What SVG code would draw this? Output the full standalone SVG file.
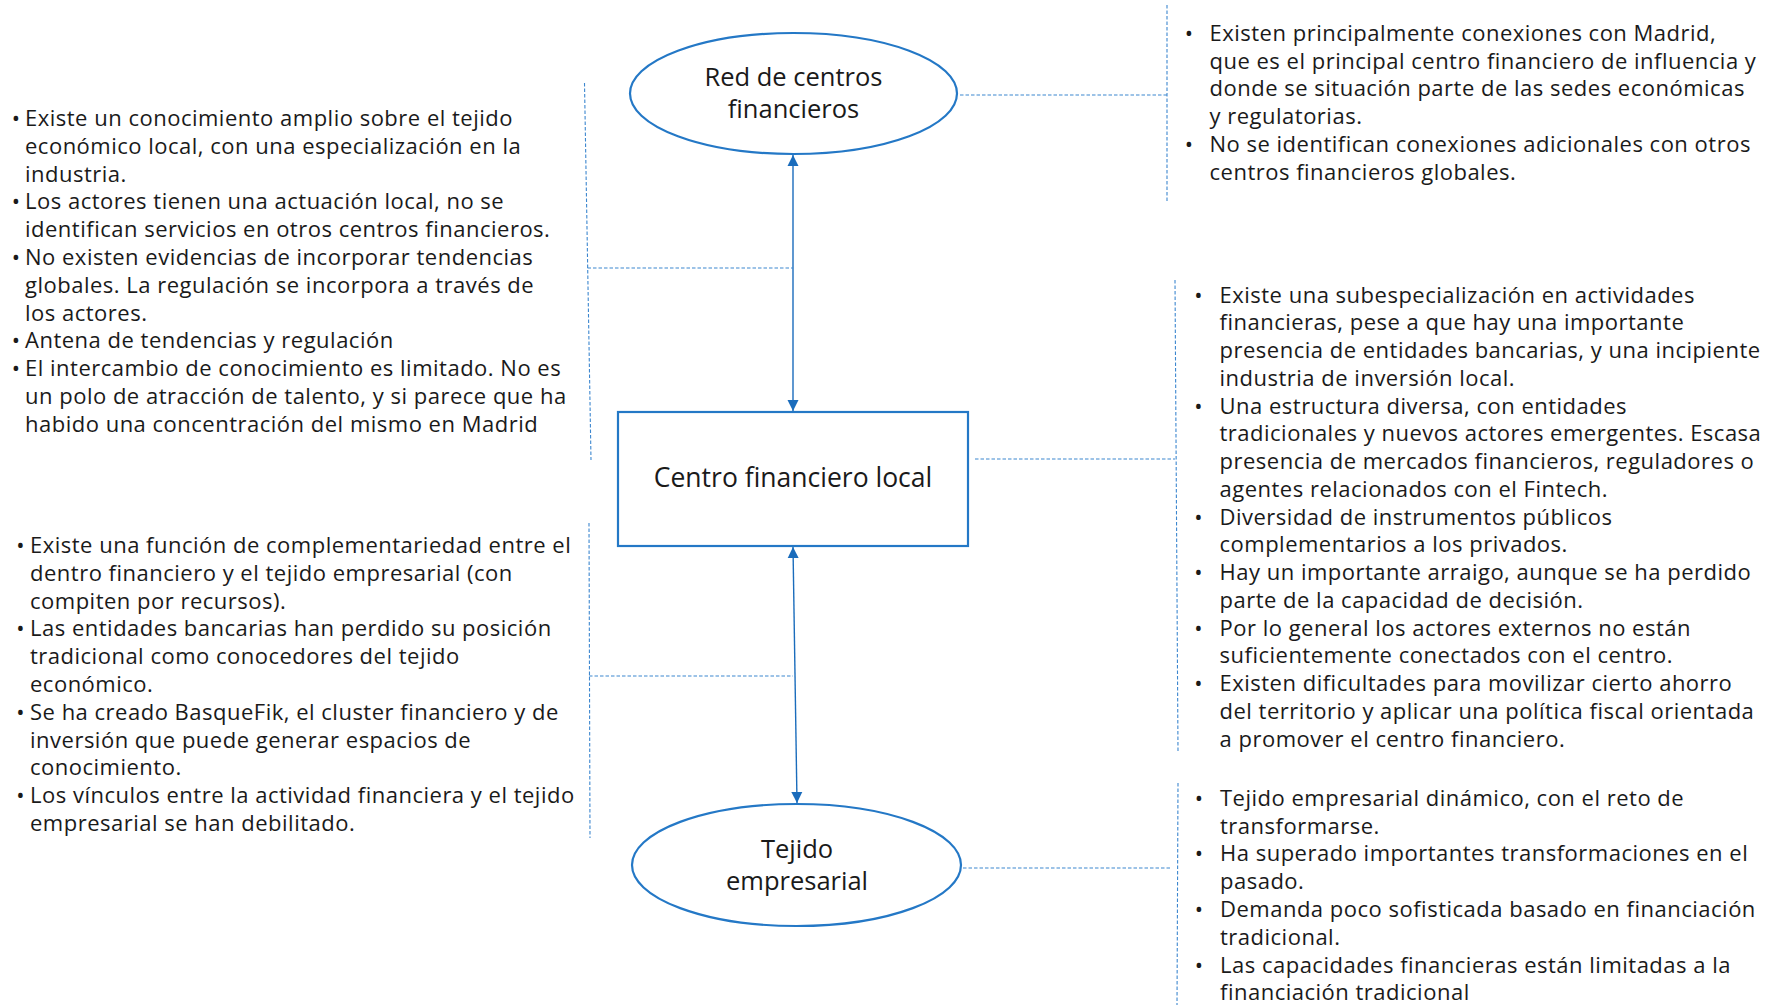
<svg xmlns="http://www.w3.org/2000/svg" width="1771" height="1005" viewBox="0 0 1771 1005">
  <style>
    .node { fill: #ffffff; stroke: #2478c6; stroke-width: 2.2; }
    .label { font-family: "Open Sans", "Liberation Sans", sans-serif; font-size: 26.5px; fill: #1a1a1a; text-anchor: middle; }
    .label2 { font-family: "Open Sans", "Liberation Sans", sans-serif; font-size: 25.5px; fill: #1a1a1a; text-anchor: middle; }
    .body { font-family: "Open Sans", "Liberation Sans", sans-serif; font-size: 22px; letter-spacing: 0.5px; fill: #1a1a1a; }
    .bul { font-family: "Open Sans", "Liberation Sans", sans-serif; font-size: 22px; fill: #1a1a1a; text-anchor: middle; }
    .link { fill: none; stroke: #1a6cbc; stroke-width: 1.4; }
    .guide { fill: none; stroke: #3d87cf; stroke-width: 1.1; stroke-dasharray: 3.5 2; }
  </style>
  <defs>
    <marker id="head" markerUnits="userSpaceOnUse" markerWidth="12" markerHeight="12" refX="11" refY="6" orient="auto-start-reverse">
      <path d="M0,0.5 L11,6 L0,11.5 z" fill="#1a6cbc"/>
    </marker>
  </defs>

  <rect width="1771" height="1005" fill="#ffffff"/>

  <!-- connectors: solid double arrows between the nodes, dashed brackets to the notes -->
  <g id="connectors">
    <line class="link" x1="793" y1="155" x2="793" y2="411" marker-start="url(#head)" marker-end="url(#head)"/>
    <line class="link" x1="793" y1="547" x2="797" y2="803" marker-start="url(#head)" marker-end="url(#head)"/>

    <!-- left notes -->
    <path class="guide" d="M584.5,83 L591,460"/>
    <path class="guide" d="M587.5,268 L793,268"/>
    <path class="guide" d="M589,523 L590,838"/>
    <path class="guide" d="M589,676 L793,676"/>

    <!-- right notes -->
    <path class="guide" d="M960,95 L1167,95"/>
    <path class="guide" d="M1167,5 L1167,203"/>
    <path class="guide" d="M975,459 L1175,459"/>
    <path class="guide" d="M1175,280 L1178,751"/>
    <path class="guide" d="M963,868 L1170,868"/>
    <path class="guide" d="M1178,783 L1177,1005"/>
  </g>

  <g id="node-red-centros">
    <ellipse class="node" cx="793.5" cy="93.5" rx="163.5" ry="60.5"/>
    <text class="label2" x="793.5" y="85.5">Red de centros<tspan x="793.5" dy="32.5">financieros</tspan></text>
  </g>

  <g id="node-centro-local">
    <rect class="node" x="618" y="412" width="350" height="134"/>
    <text class="label" x="793" y="487">Centro financiero local</text>
  </g>

  <g id="node-tejido">
    <ellipse class="node" cx="796.5" cy="865" rx="164.5" ry="61"/>
    <text class="label2" x="797" y="857.5">Tejido<tspan x="797" dy="32.5">empresarial</tspan></text>
  </g>

  <!-- notes on the local centre's knowledge and talent -->
  <g id="notes-conocimiento">
    <text class="bul" x="16" y="126">•</text>
    <text class="bul" x="16" y="209.4">•</text>
    <text class="bul" x="16" y="265">•</text>
    <text class="bul" x="16" y="348.4">•</text>
    <text class="bul" x="16" y="376.2">•</text>
    <text class="body" x="25" y="126">Existe un conocimiento amplio sobre el tejido</text>
    <text class="body" x="25" y="153.8">económico local, con una especialización en la</text>
    <text class="body" x="25" y="181.6">industria.</text>
    <text class="body" x="25" y="209.4">Los actores tienen una actuación local, no se</text>
    <text class="body" x="25" y="237.2">identifican servicios en otros centros financieros.</text>
    <text class="body" x="25" y="265">No existen evidencias de incorporar tendencias</text>
    <text class="body" x="25" y="292.8">globales. La regulación se incorpora a través de</text>
    <text class="body" x="25" y="320.6">los actores.</text>
    <text class="body" x="25" y="348.4">Antena de tendencias y regulación</text>
    <text class="body" x="25" y="376.2">El intercambio de conocimiento es limitado. No es</text>
    <text class="body" x="25" y="404">un polo de atracción de talento, y si parece que ha</text>
    <text class="body" x="25" y="431.8">habido una concentración del mismo en Madrid</text>
  </g>

  <!-- notes on the link between finance and business -->
  <g id="notes-complementariedad">
    <text class="bul" x="20.5" y="553">•</text>
    <text class="bul" x="20.5" y="636.4">•</text>
    <text class="bul" x="20.5" y="719.8">•</text>
    <text class="bul" x="20.5" y="803.2">•</text>
    <text class="body" x="30" y="553">Existe una función de complementariedad entre el</text>
    <text class="body" x="30" y="580.8">dentro financiero y el tejido empresarial (con</text>
    <text class="body" x="30" y="608.6">compiten por recursos).</text>
    <text class="body" x="30" y="636.4">Las entidades bancarias han perdido su posición</text>
    <text class="body" x="30" y="664.2">tradicional como conocedores del tejido</text>
    <text class="body" x="30" y="692">económico.</text>
    <text class="body" x="30" y="719.8">Se ha creado BasqueFik, el cluster financiero y de</text>
    <text class="body" x="30" y="747.6">inversión que puede generar espacios de</text>
    <text class="body" x="30" y="775.4">conocimiento.</text>
    <text class="body" x="30" y="803.2">Los vínculos entre la actividad financiera y el tejido</text>
    <text class="body" x="30" y="831">empresarial se han debilitado.</text>
  </g>

  <!-- notes on the network of financial centres -->
  <g id="notes-red">
    <text class="bul" x="1189" y="40.7">•</text>
    <text class="bul" x="1189" y="151.9">•</text>
    <text class="body" x="1209.5" y="40.7">Existen principalmente conexiones con Madrid,</text>
    <text class="body" x="1209.5" y="68.5">que es el principal centro financiero de influencia y</text>
    <text class="body" x="1209.5" y="96.3">donde se situación parte de las sedes económicas</text>
    <text class="body" x="1209.5" y="124.1">y regulatorias.</text>
    <text class="body" x="1209.5" y="151.9">No se identifican conexiones adicionales con otros</text>
    <text class="body" x="1209.5" y="179.7">centros financieros globales.</text>
  </g>

  <!-- notes on the local financial centre -->
  <g id="notes-centro">
    <text class="bul" x="1198.5" y="302.7">•</text>
    <text class="bul" x="1198.5" y="413.7">•</text>
    <text class="bul" x="1198.5" y="524.7">•</text>
    <text class="bul" x="1198.5" y="580.2">•</text>
    <text class="bul" x="1198.5" y="635.7">•</text>
    <text class="bul" x="1198.5" y="691.2">•</text>
    <text class="body" x="1219.5" y="302.7">Existe una subespecialización en actividades</text>
    <text class="body" x="1219.5" y="330.45">financieras, pese a que hay una importante</text>
    <text class="body" x="1219.5" y="358.2">presencia de entidades bancarias, y una incipiente</text>
    <text class="body" x="1219.5" y="385.95">industria de inversión local.</text>
    <text class="body" x="1219.5" y="413.7">Una estructura diversa, con entidades</text>
    <text class="body" x="1219.5" y="441.45">tradicionales y nuevos actores emergentes. Escasa</text>
    <text class="body" x="1219.5" y="469.2">presencia de mercados financieros, reguladores o</text>
    <text class="body" x="1219.5" y="496.95">agentes relacionados con el Fintech.</text>
    <text class="body" x="1219.5" y="524.7">Diversidad de instrumentos públicos</text>
    <text class="body" x="1219.5" y="552.45">complementarios a los privados.</text>
    <text class="body" x="1219.5" y="580.2">Hay un importante arraigo, aunque se ha perdido</text>
    <text class="body" x="1219.5" y="607.95">parte de la capacidad de decisión.</text>
    <text class="body" x="1219.5" y="635.7">Por lo general los actores externos no están</text>
    <text class="body" x="1219.5" y="663.45">suficientemente conectados con el centro.</text>
    <text class="body" x="1219.5" y="691.2">Existen dificultades para movilizar cierto ahorro</text>
    <text class="body" x="1219.5" y="718.95">del territorio y aplicar una política fiscal orientada</text>
    <text class="body" x="1219.5" y="746.7">a promover el centro financiero.</text>
  </g>

  <!-- notes on the business fabric -->
  <g id="notes-tejido">
    <text class="bul" x="1199" y="805.7">•</text>
    <text class="bul" x="1199" y="861.3">•</text>
    <text class="bul" x="1199" y="916.9">•</text>
    <text class="bul" x="1199" y="972.5">•</text>
    <text class="body" x="1220" y="805.7">Tejido empresarial dinámico, con el reto de</text>
    <text class="body" x="1220" y="833.5">transformarse.</text>
    <text class="body" x="1220" y="861.3">Ha superado importantes transformaciones en el</text>
    <text class="body" x="1220" y="889.1">pasado.</text>
    <text class="body" x="1220" y="916.9">Demanda poco sofisticada basado en financiación</text>
    <text class="body" x="1220" y="944.7">tradicional.</text>
    <text class="body" x="1220" y="972.5">Las capacidades financieras están limitadas a la</text>
    <text class="body" x="1220" y="1000.3">financiación tradicional</text>
  </g>
</svg>
